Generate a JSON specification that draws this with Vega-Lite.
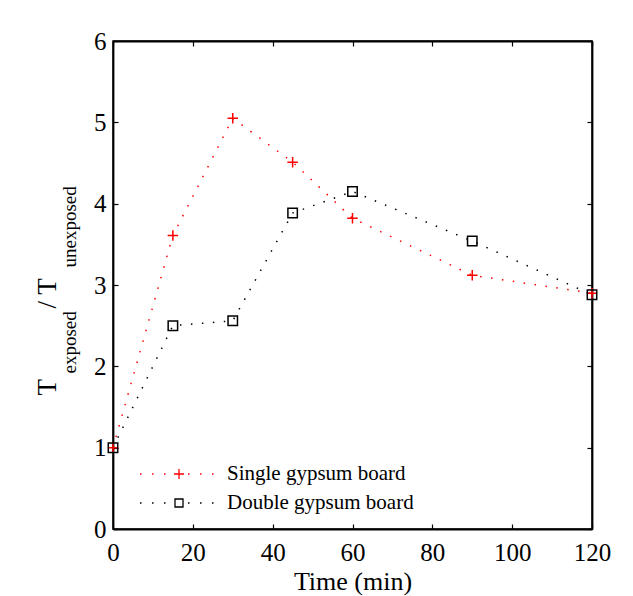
{
  "$schema": "https://vega.github.io/schema/vega-lite/v6.json",
  "width": 479,
  "height": 488,
  "autosize": {"type": "none"},
  "padding": {"left": 113, "top": 41, "right": 41, "bottom": 67},
  "background": "white",
  "config": {
    "view": {"stroke": "black", "strokeWidth": 1.5},
    "font": "Liberation Serif",
    "axis": {
      "grid": false,
      "domainColor": "black",
      "domainWidth": 1.8,
      "tickColor": "black",
      "tickWidth": 1.2,
      "labelColor": "black",
      "titleColor": "black",
      "labelFont": "Liberation Serif",
      "titleFont": "Liberation Serif",
      "titleFontWeight": "normal",
      "labelFontSize": 25,
      "titleFontSize": 26
    }
  },
  "data": {
    "values": [
      {"series": "Single gypsum board", "time": 0, "ratio": 1.0},
      {"series": "Single gypsum board", "time": 15, "ratio": 3.61},
      {"series": "Single gypsum board", "time": 30, "ratio": 5.05},
      {"series": "Single gypsum board", "time": 45, "ratio": 4.51},
      {"series": "Single gypsum board", "time": 60, "ratio": 3.82},
      {"series": "Single gypsum board", "time": 90, "ratio": 3.12},
      {"series": "Single gypsum board", "time": 120, "ratio": 2.9},
      {"series": "Double gypsum board", "time": 0, "ratio": 1.0},
      {"series": "Double gypsum board", "time": 15, "ratio": 2.5},
      {"series": "Double gypsum board", "time": 30, "ratio": 2.56},
      {"series": "Double gypsum board", "time": 45, "ratio": 3.885},
      {"series": "Double gypsum board", "time": 60, "ratio": 4.15},
      {"series": "Double gypsum board", "time": 90, "ratio": 3.54},
      {"series": "Double gypsum board", "time": 120, "ratio": 2.88}
    ]
  },
  "layer": [
    {
      "mark": {"type": "line", "strokeDash": [1.5, 9.5], "strokeWidth": 1.5},
      "encoding": {
        "x": {
          "field": "time", "type": "quantitative",
          "scale": {"domain": [0, 120], "nice": false},
          "axis": {
            "orient": "bottom",
            "values": [0, 20, 40, 60, 80, 100, 120],
            "tickSize": -5,
            "labelPadding": 16,
            "labelFlush": false,
            "title": "Time (min)",
            "titleY": 60,
            "titleBaseline": "alphabetic"
          }
        },
        "y": {
          "field": "ratio", "type": "quantitative",
          "scale": {"domain": [0, 6], "nice": false},
          "axis": {
            "orient": "left",
            "values": [0, 1, 2, 3, 4, 5, 6],
            "tickSize": -5,
            "labelPadding": 12,
            "labelFlush": false,
            "title": "T",
            "titleAngle": 270,
            "titleX": -58,
            "titleY": 354,
            "titleAlign": "left",
            "titleBaseline": "alphabetic",
            "titleFontSize": 27
          }
        },
        "color": {
          "field": "series", "type": "nominal",
          "scale": {"domain": ["Single gypsum board", "Double gypsum board"], "range": ["#ff0000", "#000000"]},
          "legend": null
        }
      }
    },
    {
      "mark": {"type": "point", "filled": false, "strokeWidth": 1.5, "size": 110, "opacity": 1},
      "encoding": {
        "x": {
          "field": "time", "type": "quantitative",
          "axis": {
            "orient": "top",
            "values": [0, 20, 40, 60, 80, 100, 120],
            "tickSize": -5,
            "labels": false,
            "title": "exposed",
            "titleAngle": 270,
            "titleX": -38,
            "titleY": 332,
            "titleAlign": "left",
            "titleBaseline": "alphabetic",
            "titleFontSize": 19
          }
        },
        "y": {
          "field": "ratio", "type": "quantitative",
          "axis": {
            "orient": "right",
            "values": [0, 1, 2, 3, 4, 5, 6],
            "tickSize": -5,
            "labels": false,
            "title": "/ T",
            "titleAngle": 270,
            "titleX": -537,
            "titleY": 267,
            "titleAlign": "left",
            "titleBaseline": "alphabetic",
            "titleFontSize": 27
          }
        },
        "color": {
          "field": "series", "type": "nominal",
          "scale": {"domain": ["Single gypsum board", "Double gypsum board"], "range": ["#ff0000", "#000000"]},
          "legend": null
        },
        "shape": {
          "field": "series", "type": "nominal",
          "scale": {"domain": ["Single gypsum board", "Double gypsum board"], "range": ["M-1,0H1M0,-1V1", "M-0.9,-0.9H0.9V0.9H-0.9Z"]},
          "legend": null
        }
      }
    },
    {
      "transform": [{"filter": "datum.time < 0"}],
      "mark": {"type": "point", "filled": false, "size": 400, "opacity": 1, "strokeWidth": 1.3},
      "encoding": {
        "x": {
          "field": "time", "type": "quantitative",
          "axis": {
            "orient": "bottom",
            "domain": false,
            "ticks": false,
            "labels": false,
            "title": "unexposed",
            "titleAngle": 270,
            "titleX": -38,
            "titleY": -262,
            "titleAlign": "left",
            "titleBaseline": "alphabetic",
            "titleFontSize": 19
          }
        },
        "y": {"field": "ratio", "type": "quantitative", "axis": null},
        "color": {
          "field": "series", "type": "nominal",
          "scale": {"domain": ["Single gypsum board", "Double gypsum board"], "range": ["#ff0000", "#000000"]},
          "legend": {
            "orient": "none",
            "legendX": 52,
            "legendY": 422,
            "title": null,
            "padding": 0,
            "symbolSize": 400,
            "symbolStrokeWidth": 1.3,
            "symbolFillColor": "transparent",
            "symbolOpacity": 1,
            "labelFont": "Liberation Serif",
            "labelFontSize": 21,
            "labelColor": "black",
            "labelOffset": 40,
            "labelLimit": 0,
            "rowPadding": 8
          }
        },
        "shape": {
          "field": "series", "type": "nominal",
          "scale": {
            "domain": ["Single gypsum board", "Double gypsum board"],
            "range": [
              "M-3.6,0h0.15M-2.4,0h0.15M-1.2,0h0.15M1.2,0h0.15M2.4,0h0.15M3.6,0h0.15M-0.2,0H0.8M0.3,-0.5V0.5",
              "M-3.6,0h0.15M-2.4,0h0.15M-1.2,0h0.15M1.2,0h0.15M2.4,0h0.15M3.6,0h0.15M-0.1,-0.4H0.7V0.4H-0.1Z"
            ]
          },
          "legend": {
            "orient": "none",
            "legendX": 52,
            "legendY": 422,
            "title": null,
            "padding": 0,
            "symbolSize": 400,
            "symbolStrokeWidth": 1.3,
            "symbolFillColor": "transparent",
            "symbolOpacity": 1,
            "labelFont": "Liberation Serif",
            "labelFontSize": 21,
            "labelColor": "black",
            "labelOffset": 40,
            "labelLimit": 0,
            "rowPadding": 8
          }
        }
      }
    }
  ],
  "resolve": {
    "scale": {"shape": "independent", "color": "independent"},
    "axis": {"x": "independent", "y": "independent"}
  }
}
